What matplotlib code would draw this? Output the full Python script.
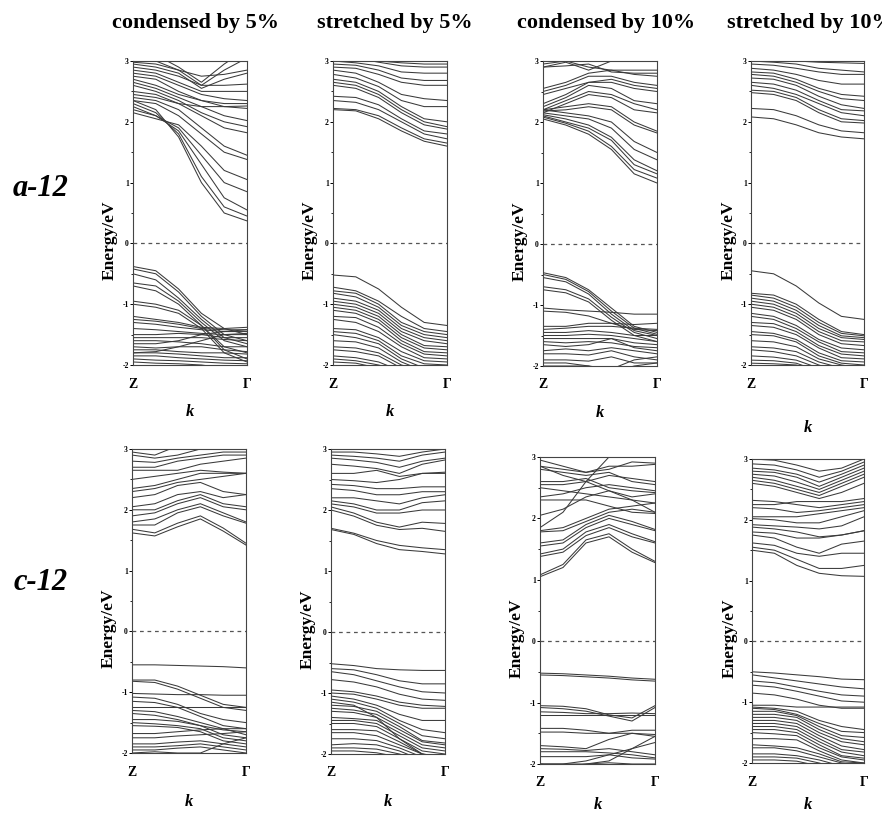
import matplotlib
matplotlib.use("Agg")
import matplotlib.pyplot as plt
from matplotlib.ticker import MultipleLocator

plt.rcParams['font.family'] = ['Liberation Serif', 'DejaVu Serif']
plt.rcParams['axes.unicode_minus'] = False

# k path sampling (Z -> Gamma), band energies in eV
k_path = [0.0, 0.2, 0.4, 0.6, 0.8, 1.0]

a12_condensed5 = [
    [2.35, 2.2, 1.75, 1.0, 0.5, 0.37],
    [2.3, 2.15, 1.8, 1.1, 0.6, 0.45],
    [2.25, 2.1, 1.85, 1.3, 0.75, 0.55],
    [2.2, 2.1, 1.9, 1.45, 1.0, 0.85],
    [2.15, 2.05, 1.95, 1.6, 1.2, 1.05],
    [2.35, 2.3, 2.1, 1.8, 1.5, 1.38],
    [2.4, 2.35, 2.2, 1.9, 1.6, 1.45],
    [2.5, 2.45, 2.3, 2.1, 1.9, 1.82],
    [2.6, 2.5, 2.35, 2.15, 2.0, 1.92],
    [2.65, 2.55, 2.4, 2.25, 2.1, 2.02],
    [2.75, 2.7, 2.5, 2.35, 2.25, 2.22],
    [2.8, 2.75, 2.6, 2.45, 2.38, 2.35],
    [2.85, 2.8, 2.65, 2.5, 2.5, 2.5],
    [2.9, 2.85, 2.75, 2.6, 2.6, 2.62],
    [2.95, 2.9, 2.8, 2.55, 2.7, 2.8],
    [3.05, 3.0, 2.85, 2.6, 2.85, 3.05],
    [3.2, 3.1, 2.9, 2.65, 2.95, 3.2],
    [2.98, 2.95, 2.85, 2.75, 2.78, 2.85],
    [2.7, 2.6, 2.45, 2.35, 2.3, 2.3],
    [2.45, 2.4, 2.3, 2.25, 2.25, 2.26],
    [-0.38, -0.45, -0.75, -1.15, -1.4, -1.5],
    [-0.42, -0.5, -0.8, -1.2, -1.5, -1.6],
    [-0.5, -0.6, -0.9, -1.25, -1.55, -1.65],
    [-0.65, -0.7, -0.95, -1.3, -1.6, -1.7],
    [-0.7, -0.78, -1.0, -1.35, -1.7, -1.8],
    [-0.95, -1.0, -1.1, -1.35, -1.75, -1.9],
    [-1.0, -1.05, -1.15, -1.4, -1.8, -1.95],
    [-1.2, -1.25, -1.3, -1.38, -1.4, -1.38],
    [-1.25, -1.28, -1.33, -1.4, -1.42, -1.42],
    [-1.3, -1.33, -1.38, -1.42, -1.45, -1.45],
    [-1.4, -1.42, -1.45, -1.48, -1.5, -1.5],
    [-1.5, -1.5, -1.48, -1.5, -1.55, -1.55],
    [-1.55, -1.55, -1.55, -1.55, -1.58, -1.6],
    [-1.6, -1.6, -1.62, -1.65, -1.7, -1.7],
    [-1.7, -1.72, -1.7, -1.7, -1.75, -1.78],
    [-1.75, -1.75, -1.78, -1.8, -1.8, -1.82],
    [-1.8, -1.8, -1.82, -1.85, -1.88, -1.88],
    [-1.85, -1.85, -1.88, -1.9, -1.92, -1.93],
    [-1.9, -1.92, -1.93, -1.95, -1.97, -1.98],
    [-1.95, -1.97, -1.98, -2.0, -2.05, -2.1],
    [-1.65, -1.65, -1.6, -1.5, -1.45, -1.42],
    [-1.8, -1.78, -1.7, -1.6, -1.5, -1.48],
]

a12_stretched5 = [
    [2.2, 2.18, 2.05, 1.85, 1.68, 1.6],
    [2.22, 2.2, 2.1, 1.9, 1.72, 1.65],
    [2.35, 2.32, 2.2, 2.0, 1.8, 1.72],
    [2.42, 2.4, 2.28, 2.05, 1.85, 1.8],
    [2.6, 2.55, 2.4, 2.15, 1.95, 1.88],
    [2.65, 2.6, 2.45, 2.2, 2.0, 1.92],
    [2.7, 2.65, 2.5, 2.25, 2.05, 2.0],
    [2.78, 2.72, 2.58, 2.35, 2.25, 2.25],
    [2.85, 2.8, 2.65, 2.45, 2.38, 2.35],
    [2.9, 2.88, 2.78, 2.65, 2.6, 2.6],
    [2.95, 2.93, 2.85, 2.72, 2.68, 2.68],
    [3.0, 2.97, 2.92, 2.82, 2.8, 2.8],
    [3.1, 3.05, 2.98, 2.92, 2.9, 2.9],
    [3.1, 3.05, 3.0, 2.97, 2.95, 2.95],
    [-0.52, -0.55, -0.75, -1.05, -1.3, -1.35],
    [-0.72, -0.78, -0.95, -1.2, -1.4, -1.45],
    [-0.78, -0.82, -1.0, -1.3, -1.45, -1.5],
    [-0.82, -0.88, -1.05, -1.35, -1.5, -1.55],
    [-0.9, -0.95, -1.1, -1.4, -1.55, -1.6],
    [-0.95, -1.0, -1.15, -1.45, -1.6, -1.65],
    [-1.0, -1.05, -1.2, -1.5, -1.68, -1.7],
    [-1.05, -1.1, -1.25, -1.55, -1.72, -1.75],
    [-1.1, -1.15, -1.3, -1.6, -1.78, -1.8],
    [-1.2, -1.22, -1.38, -1.65, -1.82, -1.85],
    [-1.25, -1.3, -1.45, -1.7, -1.88, -1.9],
    [-1.4, -1.42, -1.55, -1.78, -1.93, -1.95],
    [-1.45, -1.48, -1.6, -1.85, -1.98, -2.0],
    [-1.5, -1.55, -1.65, -1.9, -2.05, -2.1],
    [-1.6, -1.62, -1.72, -1.95, -2.1, -2.1],
    [-1.7, -1.72, -1.8, -2.0, -2.1, -2.1],
    [-1.75, -1.78, -1.85, -2.05, -2.1, -2.1],
    [-1.85, -1.88, -1.95, -2.1, -2.1, -2.1],
    [-1.9, -1.93, -2.0, -2.1, -2.1, -2.1],
    [-1.95, -1.97, -2.05, -2.1, -2.1, -2.1],
]

a12_condensed10 = [
    [2.05, 1.95, 1.8, 1.55, 1.15, 1.0],
    [2.08, 1.98, 1.85, 1.6, 1.22, 1.08],
    [2.1, 2.0, 1.9, 1.7, 1.3, 1.15],
    [2.12, 2.05, 1.95, 1.75, 1.38, 1.2],
    [2.15, 2.1, 2.05, 1.9, 1.55, 1.38],
    [2.2, 2.15, 2.1, 2.0, 1.68, 1.5],
    [2.18, 2.2, 2.25, 2.2, 1.95, 1.82],
    [2.2, 2.25, 2.3, 2.25, 2.0, 1.85],
    [2.15, 2.3, 2.45, 2.4, 2.2, 2.15],
    [2.2, 2.35, 2.5, 2.45, 2.3, 2.2],
    [2.25, 2.4, 2.6, 2.55, 2.35, 2.3],
    [2.3, 2.45, 2.65, 2.65, 2.55, 2.5],
    [2.45, 2.55, 2.65, 2.7, 2.6, 2.55],
    [2.5, 2.6, 2.75, 2.75, 2.65, 2.6],
    [2.55, 2.65, 2.8, 2.85, 2.78, 2.75],
    [2.9, 2.92, 2.95, 2.82, 2.8, 2.8],
    [2.95, 3.0, 2.9, 2.85, 2.85, 2.85],
    [2.9, 2.98, 2.85, 3.0, 3.1, 3.1],
    [-0.47, -0.55, -0.75, -1.05, -1.35, -1.45],
    [-0.5, -0.58, -0.78, -1.1, -1.38, -1.48],
    [-0.55, -0.62, -0.82, -1.15, -1.42, -1.5],
    [-0.7, -0.75, -0.9, -1.2, -1.45, -1.55],
    [-0.75, -0.8, -0.95, -1.25, -1.5, -1.6],
    [-1.05, -1.08, -1.1, -1.12, -1.15, -1.15],
    [-1.1, -1.12, -1.18, -1.3, -1.4, -1.42],
    [-1.35, -1.35, -1.3, -1.3, -1.32, -1.3],
    [-1.4, -1.38, -1.35, -1.35, -1.38, -1.4],
    [-1.45, -1.45, -1.42, -1.45, -1.5, -1.5],
    [-1.5, -1.5, -1.48, -1.5, -1.55, -1.6],
    [-1.55, -1.55, -1.55, -1.55, -1.62, -1.65],
    [-1.6, -1.62, -1.6, -1.62, -1.68, -1.7],
    [-1.65, -1.68, -1.65, -1.55, -1.7, -1.75],
    [-1.75, -1.72, -1.75, -1.7, -1.75, -1.8],
    [-1.8, -1.8, -1.82, -1.75, -1.85, -1.9],
    [-1.9, -1.9, -1.92, -1.85, -1.95, -1.95],
    [-1.95, -1.95, -2.0, -2.05, -1.9, -1.85],
    [-2.0, -2.0, -2.0, -2.1, -2.0, -1.95],
]

a12_stretched10 = [
    [2.08, 2.05, 1.95, 1.82, 1.75, 1.72],
    [2.22, 2.2, 2.1, 1.95, 1.85, 1.82],
    [2.48, 2.45, 2.35, 2.15, 2.0, 1.98],
    [2.52, 2.5, 2.4, 2.2, 2.05, 2.02],
    [2.6, 2.55, 2.45, 2.3, 2.15, 2.1],
    [2.65, 2.62, 2.52, 2.35, 2.2, 2.18],
    [2.72, 2.7, 2.6, 2.42, 2.28, 2.22],
    [2.78, 2.75, 2.65, 2.5, 2.38, 2.35],
    [2.82, 2.8, 2.7, 2.55, 2.45, 2.42],
    [2.88, 2.85, 2.78, 2.68, 2.62, 2.62],
    [2.95, 2.93, 2.88, 2.82, 2.78, 2.78],
    [3.0, 2.98, 2.95, 2.88, 2.85, 2.82],
    [3.05, 3.0, 3.0, 2.98, 2.97, 2.96],
    [-0.45, -0.5, -0.7, -0.98, -1.2, -1.25],
    [-0.82, -0.85, -1.0, -1.25, -1.45, -1.5],
    [-0.85, -0.9, -1.05, -1.3, -1.48, -1.52],
    [-0.9, -0.95, -1.1, -1.35, -1.52, -1.55],
    [-0.95, -1.0, -1.15, -1.4, -1.55, -1.58],
    [-1.0, -1.05, -1.2, -1.45, -1.6, -1.62],
    [-1.05, -1.1, -1.25, -1.5, -1.65, -1.68],
    [-1.15, -1.2, -1.35, -1.58, -1.72, -1.75],
    [-1.2, -1.25, -1.4, -1.62, -1.78, -1.8],
    [-1.3, -1.32, -1.45, -1.68, -1.82, -1.85],
    [-1.35, -1.38, -1.5, -1.72, -1.88, -1.9],
    [-1.45, -1.48, -1.58, -1.8, -1.93, -1.95],
    [-1.5, -1.52, -1.62, -1.85, -1.97, -2.0],
    [-1.6, -1.62, -1.7, -1.9, -2.0, -2.05],
    [-1.7, -1.72, -1.78, -1.95, -2.05, -2.1],
    [-1.75, -1.78, -1.85, -2.0, -2.1, -2.1],
    [-1.85, -1.87, -1.92, -2.05, -2.1, -2.1],
    [-1.92, -1.93, -1.97, -2.1, -2.1, -2.1],
    [-1.97, -1.98, -2.0, -2.1, -2.1, -2.1],
]

c12_condensed5 = [
    [1.62, 1.57, 1.72, 1.85, 1.65, 1.42],
    [1.68, 1.62, 1.78, 1.9, 1.7, 1.45],
    [1.75, 1.75, 1.95, 2.05, 1.9, 1.78],
    [1.8, 1.85, 2.0, 2.1, 1.95, 1.8],
    [1.9, 1.95, 2.1, 2.2, 2.05, 2.0],
    [2.0, 2.0, 2.15, 2.25, 2.1, 2.05],
    [2.05, 2.1, 2.25, 2.3, 2.2, 2.25],
    [2.2, 2.25, 2.4, 2.45, 2.3, 2.25],
    [2.3, 2.35, 2.45, 2.5, 2.55, 2.6],
    [2.35, 2.4, 2.5, 2.6, 2.6, 2.6],
    [2.5, 2.55, 2.6, 2.65, 2.62, 2.6],
    [2.65, 2.65, 2.65, 2.75, 2.8, 2.85],
    [2.7, 2.7, 2.8, 2.85, 2.9, 2.9],
    [2.8, 2.78, 2.85, 2.9, 2.95, 2.95],
    [2.9, 2.85, 2.9, 3.0, 3.0, 3.0],
    [2.95, 2.9, 3.05, 3.1, 3.1, 3.1],
    [-0.55, -0.55, -0.56, -0.57, -0.58, -0.6],
    [-0.8, -0.8, -0.9, -1.05, -1.2, -1.25],
    [-0.82, -0.84, -0.95, -1.1, -1.25, -1.3],
    [-1.02, -1.03, -1.04, -1.04, -1.05, -1.05],
    [-1.08, -1.1, -1.2, -1.35, -1.45, -1.5],
    [-1.15, -1.17, -1.25, -1.4, -1.55, -1.6],
    [-1.25, -1.25, -1.25, -1.25, -1.25, -1.25],
    [-1.3, -1.32, -1.4, -1.5, -1.6, -1.7],
    [-1.35, -1.38, -1.45, -1.55, -1.7, -1.75],
    [-1.45, -1.45, -1.48, -1.55, -1.62, -1.65],
    [-1.5, -1.52, -1.55, -1.6, -1.75, -1.8],
    [-1.55, -1.56, -1.58, -1.65, -1.8, -1.85],
    [-1.68, -1.68, -1.65, -1.62, -1.6, -1.6],
    [-1.75, -1.75, -1.72, -1.7, -1.68, -1.65],
    [-1.85, -1.85, -1.82, -1.8, -1.85, -1.9],
    [-1.9, -1.9, -1.88, -1.85, -1.9, -1.95],
    [-1.95, -1.95, -1.92, -1.9, -1.95, -2.0],
    [-2.0, -1.98, -2.0, -2.0, -1.85, -1.75],
]

c12_stretched5 = [
    [1.68, 1.6, 1.45, 1.35, 1.32, 1.28],
    [1.7, 1.62, 1.5, 1.42, 1.38, 1.35],
    [2.0, 1.9, 1.75, 1.68, 1.7, 1.65],
    [2.05, 1.95, 1.8, 1.72, 1.8, 1.78],
    [2.1, 2.05, 1.95, 1.95, 2.0, 2.0],
    [2.15, 2.1, 2.0, 2.0, 2.12, 2.15],
    [2.2, 2.2, 2.15, 2.1, 2.2, 2.25],
    [2.35, 2.32, 2.25, 2.25, 2.3, 2.3],
    [2.42, 2.4, 2.35, 2.35, 2.38, 2.38],
    [2.5, 2.48, 2.45, 2.5, 2.6, 2.62],
    [2.6, 2.6, 2.65, 2.55, 2.6, 2.6],
    [2.75, 2.72, 2.68, 2.6, 2.75, 2.82],
    [2.85, 2.82, 2.78, 2.7, 2.8, 2.85],
    [2.9, 2.88, 2.85, 2.8, 2.9, 2.95],
    [2.95, 2.95, 2.92, 2.88, 2.95, 3.0],
    [-0.52, -0.55, -0.6, -0.62, -0.63, -0.63],
    [-0.6, -0.62, -0.7, -0.8, -0.85, -0.85],
    [-0.65, -0.7, -0.8, -0.9, -0.98, -1.0],
    [-0.78, -0.82, -0.9, -1.02, -1.1, -1.12],
    [-0.95, -0.98, -1.05, -1.15, -1.2, -1.22],
    [-1.0, -1.02, -1.1, -1.2, -1.25, -1.25],
    [-1.05, -1.1, -1.2, -1.35, -1.45, -1.45],
    [-1.1, -1.15, -1.25, -1.45, -1.6, -1.65],
    [-1.2, -1.22, -1.3, -1.5, -1.7, -1.75],
    [-1.25, -1.28, -1.35, -1.55, -1.78, -1.82],
    [-1.3, -1.32, -1.4, -1.6, -1.8, -1.85],
    [-1.4, -1.42, -1.45, -1.65, -1.85, -1.9],
    [-1.45, -1.45, -1.5, -1.7, -1.9, -1.95],
    [-1.5, -1.5, -1.55, -1.75, -1.95, -2.0],
    [-1.6, -1.6, -1.62, -1.8, -2.0, -2.05],
    [-1.65, -1.65, -1.7, -1.85, -2.0, -2.05],
    [-1.75, -1.75, -1.78, -1.9, -2.05, -2.1],
    [-1.85, -1.83, -1.85, -1.95, -2.1, -2.1],
    [-1.9, -1.9, -1.92, -2.0, -2.1, -2.1],
    [-1.95, -1.95, -1.98, -2.05, -2.1, -2.1],
    [-1.15, -1.2, -1.4, -1.75, -2.0, -2.1],
]

c12_condensed10 = [
    [1.05, 1.2, 1.6, 1.7, 1.45, 1.28],
    [1.08, 1.25, 1.65, 1.75, 1.5, 1.3],
    [1.38, 1.45, 1.72, 1.85, 1.7, 1.6],
    [1.42, 1.5, 1.78, 1.9, 1.75, 1.62],
    [1.55, 1.6, 1.85, 2.0, 1.9, 1.8],
    [1.6, 1.65, 1.9, 2.05, 1.95, 1.82],
    [1.78, 1.8, 1.95, 2.1, 2.15, 2.1],
    [1.8, 1.85, 2.0, 2.15, 2.2, 2.25],
    [2.05, 2.15, 2.35, 2.45, 2.3, 2.1],
    [2.3, 2.3, 2.3, 2.2, 2.1, 2.08],
    [2.35, 2.4, 2.5, 2.55, 2.5, 2.45],
    [2.5, 2.45, 2.4, 2.35, 2.3, 2.25],
    [2.55, 2.55, 2.6, 2.7, 2.65, 2.6],
    [2.6, 2.6, 2.65, 2.5, 2.45, 2.42],
    [2.8, 2.75, 2.7, 2.75, 2.6, 2.55],
    [2.85, 2.8, 2.75, 2.85, 2.85, 2.88],
    [2.95, 2.85, 2.75, 2.8, 2.92, 2.9],
    [1.85, 2.1, 2.6, 3.0, 3.2, 3.3],
    [2.85, 2.7, 2.6, 2.45, 2.35, 2.4],
    [-0.52, -0.53, -0.55, -0.57, -0.6, -0.62],
    [-0.55, -0.56, -0.58, -0.6, -0.63, -0.65],
    [-1.05, -1.06, -1.1, -1.2, -1.25, -1.05],
    [-1.08, -1.1, -1.14, -1.22, -1.3, -1.08],
    [-1.15, -1.16, -1.18, -1.18, -1.17, -1.18],
    [-1.2, -1.2, -1.2, -1.2, -1.2, -1.2],
    [-1.42, -1.42, -1.45, -1.5, -1.45, -1.45],
    [-1.48, -1.48, -1.5, -1.5, -1.5, -1.52],
    [-1.7, -1.72, -1.75, -1.6, -1.5, -1.55],
    [-1.75, -1.76, -1.78, -1.75, -1.8, -1.85],
    [-1.8, -1.8, -1.8, -1.82, -1.85, -1.9],
    [-1.88, -1.88, -1.88, -1.85, -1.9, -1.92],
    [-2.0, -2.0, -1.95, -1.85, -1.75, -1.65],
    [-2.0, -2.05, -2.0, -1.95, -1.75, -1.55],
    [-2.0, -2.0, -2.0, -1.98, -2.0, -2.0],
]

c12_stretched10 = [
    [1.5, 1.45, 1.25, 1.12, 1.08, 1.07],
    [1.55, 1.5, 1.35, 1.2, 1.2, 1.25],
    [1.62, 1.58, 1.45, 1.4, 1.45, 1.45],
    [1.75, 1.7, 1.55, 1.45, 1.6, 1.65],
    [1.8, 1.78, 1.7, 1.7, 1.75, 1.82],
    [1.88, 1.85, 1.8, 1.72, 1.75, 1.82],
    [1.92, 1.9, 1.88, 1.85, 1.9, 2.05],
    [2.02, 2.0, 1.95, 1.95, 2.05, 2.15],
    [2.05, 2.05, 2.05, 2.1, 2.15, 2.2],
    [2.2, 2.18, 2.12, 2.15, 2.2, 2.25],
    [2.25, 2.25, 2.3, 2.3, 2.3, 2.35],
    [2.32, 2.3, 2.25, 2.2, 2.25, 2.3],
    [2.6, 2.55, 2.45, 2.35, 2.45, 2.6],
    [2.65, 2.6, 2.5, 2.4, 2.55, 2.7],
    [2.7, 2.65, 2.55, 2.45, 2.6, 2.75],
    [2.75, 2.72, 2.62, 2.5, 2.65, 2.8],
    [2.8, 2.78, 2.7, 2.55, 2.7, 2.85],
    [2.85, 2.82, 2.75, 2.62, 2.75, 2.9],
    [2.92, 2.9, 2.82, 2.7, 2.8, 2.95],
    [3.0, 2.98, 2.9, 2.8, 2.85, 3.0],
    [-0.5, -0.52, -0.55, -0.58, -0.62, -0.63],
    [-0.55, -0.6, -0.65, -0.7, -0.75, -0.78],
    [-0.65, -0.68, -0.75, -0.82, -0.88, -0.9],
    [-0.72, -0.75, -0.82, -0.9, -0.98, -1.0],
    [-0.85, -0.88, -0.95, -1.05, -1.1, -1.1],
    [-1.05, -1.05, -1.08, -1.08, -1.08, -1.08],
    [-1.08, -1.1, -1.15, -1.3, -1.4, -1.45],
    [-1.1, -1.12, -1.2, -1.35, -1.48, -1.5],
    [-1.15, -1.15, -1.22, -1.4, -1.55, -1.58],
    [-1.2, -1.2, -1.25, -1.45, -1.6, -1.65],
    [-1.25, -1.25, -1.3, -1.5, -1.65, -1.7],
    [-1.3, -1.3, -1.35, -1.55, -1.72, -1.78],
    [-1.35, -1.35, -1.4, -1.6, -1.78, -1.82],
    [-1.4, -1.4, -1.45, -1.65, -1.82, -1.88],
    [-1.45, -1.45, -1.5, -1.7, -1.88, -1.92],
    [-1.5, -1.52, -1.55, -1.75, -1.9, -1.95],
    [-1.6, -1.6, -1.62, -1.8, -1.95, -2.0],
    [-1.7, -1.72, -1.75, -1.85, -1.98, -2.0],
    [-1.75, -1.75, -1.8, -1.9, -2.0, -2.05],
    [-1.85, -1.85, -1.88, -1.95, -2.05, -2.1],
    [-1.9, -1.9, -1.92, -2.0, -2.1, -2.1],
    [-1.95, -1.95, -1.97, -2.05, -2.1, -2.1],
]

titles = ["condensed by 5%", "stretched by 5%", "condensed by 10%", "stretched by 10%"]
row_labels = ["a-12", "c-12"]
k_labels = ["Z", "Γ"]
yticks = [-2, -1, 0, 1, 2, 3]

panels = [a12_condensed5, a12_stretched5, a12_condensed10, a12_stretched10,
          c12_condensed5, c12_stretched5, c12_condensed10, c12_stretched10]

# pixel boxes (x0, ytop, x1, ybottom) and y of the "k" label
W, H = 882, 816
boxes = [(133, 61, 247, 365), (333, 61, 447, 365), (543, 61, 657, 366), (751, 61, 864, 365),
         (132, 449, 246, 753), (331, 449, 445, 754), (540, 457, 655, 764), (752, 459, 864, 763)]
k_y = [412, 412, 413, 428, 802, 802, 805, 805]

fig = plt.figure(figsize=(W / 100, H / 100), dpi=100)

for bands, (x0, yt, x1, yb), ky in zip(panels, boxes, k_y):
    ax = fig.add_axes([x0 / W, 1 - yb / H, (x1 - x0) / W, (yb - yt) / H])
    for b in bands:
        ax.plot(k_path, b, color='#3a3a3a', lw=0.75)
    ax.axhline(0, color='#555555', lw=0.9, ls=(0, (3, 3)))
    ax.set_xlim(0, 1)
    ax.set_ylim(-2, 3)
    ax.set_yticks(yticks)
    ax.set_yticklabels([str(t) for t in yticks], fontsize=5.5, fontweight='bold')
    ax.yaxis.set_minor_locator(MultipleLocator(0.5))
    ax.tick_params(axis='y', which='major', direction='out', length=2.5, width=0.7, pad=0.5)
    ax.tick_params(axis='y', which='minor', direction='out', length=1.2, width=0.6)
    ax.set_xticks([0, 1])
    ax.set_xticklabels(k_labels, fontsize=10, fontweight='bold')
    ax.tick_params(axis='x', length=0, pad=9)
    for s in ax.spines.values():
        s.set_linewidth(0.8)
        s.set_color('#444444')
    ax.set_ylabel("Energy/eV", fontsize=12.5, fontweight='bold')
    ax.yaxis.set_label_coords(-0.13, 0.41)
    ax.text(0.5, -(ky - yb) / (yb - yt), "k", transform=ax.transAxes, ha='center', va='center',
            fontsize=12, fontweight='bold', style='italic')

title_x = [195, 395, 606, 810]
for t, tx in zip(titles, title_x):
    fig.text(tx / W, 1 - 23 / H, t, ha='center', va='center', fontsize=16, fontweight='bold')

for lab, ly in zip(row_labels, [188, 583]):
    fig.text(41 / W, 1 - ly / H, lab, ha='center', va='center', fontsize=22,
             fontweight='bold', style='italic')

fig.savefig("out.png", dpi=100)
